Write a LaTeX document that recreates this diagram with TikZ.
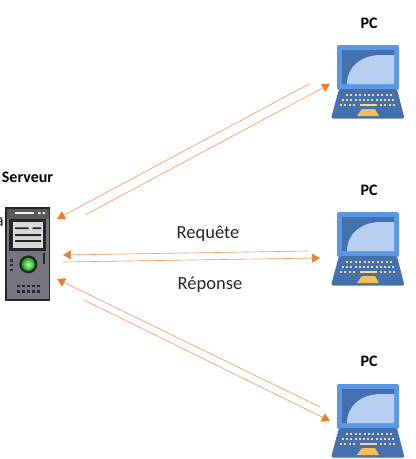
\documentclass[tikz,border=0pt]{standalone}
\usepackage{fontspec}
\setmainfont{Carlito}
\usetikzlibrary{arrows.meta}
\definecolor{fleche}{HTML}{ED7D31}
\definecolor{bleuclair}{HTML}{5C97E4}
\definecolor{bleufonce}{HTML}{4470AE}
\definecolor{ecran}{HTML}{B6CEEF}
\definecolor{touche}{HTML}{F3D79A}
\definecolor{pave}{HTML}{F5BE57}
\definecolor{corps}{HTML}{77757F}
\tikzset{
  lien/.style = {draw=fleche!80, line width=0.6pt, -{Triangle[length=8pt,width=9pt,color=fleche]}},
  hote/.style = {inner sep=0pt, minimum width=#1, minimum height=74pt},
  titre/.style = {font=\bfseries\fontsize{16}{16}\selectfont, text=black},
  legende/.style = {font=\fontsize{18.5}{18.5}\selectfont, text=black!85},
  pics/portable/.style = {code = {
    \fill[bleuclair, rounded corners=2pt] (6,0) rectangle (68,45);
    \fill[bleufonce] (11,5) rectangle (63,39);
    \fill[ecran] (16,39) .. controls (16,22) and (30,10) .. (50,10) -- (63,10) -- (63,39) -- cycle;
    \fill[bleufonce, rounded corners=2pt] (8,44) -- (66,44) -- (73.5,73.5) -- (0,73.5) -- cycle;
    \foreach \n in {0,...,10} \fill[touche] ({16+4.4*\n-1},49) rectangle ++(2,2.4);
    \foreach \n in {0,...,12} \fill[touche] ({12+4.2*\n-1},54) rectangle ++(2,2.4);
    \foreach \n in {0,...,3} {
      \fill[touche] ({10+4.4*\n-1},59) rectangle ++(2,2.4);
      \fill[touche] ({50+4.4*\n-1},59) rectangle ++(2,2.4);
    }
    \fill[touche] (29,59) rectangle (46,61.4);
    \fill[pave] (31,64) -- (44,64) -- (48,71) -- (26,71) -- cycle;
  }},
  pics/tour/.style = {code = {
    \fill[corps, draw=black!85, line width=1.4pt] (1,1) rectangle (44.5,93);
    \fill[black!65] (2,2) rectangle (43.5,12);
    \fill[white!90!gray] (10,5) rectangle (29,7.2);
    \fill[white!80!gray] (33,5) rectangle (35.5,7.2) (37.5,5) rectangle (40,7.2);
    \fill[black!85] (4.3,12) rectangle (40.7,43.5);
    \fill[black!15] (8,15) rectangle (38,40.5);
    \fill[black!85] (10,20.4) rectangle (23.5,22.2) (27.5,20.4) rectangle (36,22.2);
    \fill[black!85] (10,27) rectangle (36,29) (10,33) rectangle (36,34.8);
    \fill[black!85] (23.3,57.3) circle (9);
    \shade[inner color=green!30!white, outer color=green!60!black!90] (23.3,57.3) circle (6.5);
    \fill[black!85] (37.5,46) rectangle (40,57);
    \foreach \y in {52.3,57,61.7} \fill[black!80] (5,\y) rectangle ++(3,2.2);
    \foreach \y in {77.5,83} \foreach \n in {0,...,4}
      \fill[black!85] ({12+5*\n},\y) rectangle ++(3,2.6);
  }},
}
\begin{document}
\begin{tikzpicture}[x=1pt, y=-1pt]
 \useasboundingbox (0,0) rectangle (416,459);
 % postes
 \foreach \i/\ypc/\ylab in {1/45/23, 2/212/190, 3/384/361} {
   \node[hote=74pt, anchor=north west] (pc\i) at (331,\ypc) {};
   \pic at (pc\i.north west) {portable};
   \node[titre] (nompc\i) at (369,\ylab) {PC};
 }
 % serveur
 \node[hote=45pt, minimum height=94pt, anchor=north west] (serveur) at (5,207) {};
 \pic at (serveur.north west) {tour};
 \node[titre] (nomserveur) at (27.5,177) {Serveur};
 \node[legende, inner sep=0pt, anchor=east] (reste) at (4,222) {a};
 \node[legende] (requete) at (208,234) {Requête};
 \node[legende] (reponse) at (210,285) {Réponse};
 % bouts des fleches
 \coordinate (d1) at (309,84);
 \coordinate (a1) at (57,219);
 \coordinate (d2) at (85,215);
 \coordinate (a2) at (330,84);
 \coordinate (d3) at (308,251);
 \coordinate (a3) at (63,255);
 \coordinate (d4) at (63,262);
 \coordinate (a4) at (320,258);
 \coordinate (d5) at (320,407);
 \coordinate (a5) at (57,279);
 \coordinate (d6) at (84,300);
 \coordinate (a6) at (330,421);
 \foreach \i in {1,...,6} \draw[lien] (d\i) -- (a\i);
\end{tikzpicture}
\end{document}
